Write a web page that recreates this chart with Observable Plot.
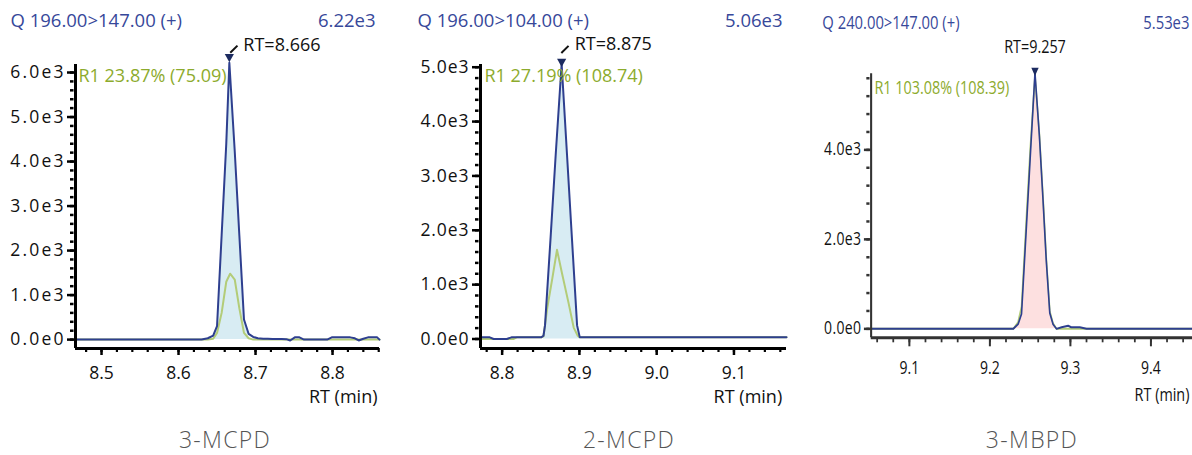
<!DOCTYPE html>
<html>
<head>
<meta charset="utf-8">
<script src="https://cdn.jsdelivr.net/npm/d3@7"></script>
<script src="https://cdn.jsdelivr.net/npm/@observablehq/plot@0.6"></script>
<style>
  html, body { margin: 0; padding: 0; background: #fff; }
  body { width: 1192px; height: 455px; overflow: hidden; position: relative; font-family: "Open Sans", sans-serif; }
  .panel { position: absolute; top: 0; transform-origin: 0 0; }
  .panel svg { overflow: visible; max-width: none !important; display: block; }
  .cap { position: absolute; bottom: 0; width: 200px; text-align: center; font-size: 23px; line-height: normal;
         color: #555; font-weight: 300; letter-spacing: 1.3px; }
</style>
</head>
<body>
<div id="p0" class="panel"></div>
<div id="p1" class="panel"></div>
<div id="p2" class="panel"></div>
<script>
// ---------------- data ----------------
const compounds   = ["3-MCPD", "2-MCPD", "3-MBPD"];
const transitions = ["Q 196.00>147.00 (+)", "Q 196.00>104.00 (+)", "Q 240.00>147.00 (+)"];
const maxLabels   = ["6.22e3", "5.06e3", "5.53e3"];
const ratioLabels = ["R1 23.87% (75.09)", "R1 27.19% (108.74)", "R1 103.08% (108.39)"];
const peakRTs     = [8.666, 8.875, 9.257];
const integStart  = [8.645, 8.8535, 9.229];
const integEnd    = [8.691, 8.9005, 9.2828];

// 3-MCPD quantifier (blue) and qualifier (green) traces
const quantRT1 = [8.4662, 8.630, 8.638, 8.645, 8.650, 8.656, 8.662, 8.666, 8.673, 8.679, 8.685, 8.691, 8.697, 8.703, 8.710, 8.716, 8.722, 8.728, 8.734, 8.740, 8.745, 8.751, 8.757, 8.763, 8.769, 8.775, 8.781, 8.787, 8.793, 8.799, 8.805, 8.811, 8.817, 8.823, 8.829, 8.834, 8.840, 8.846, 8.852, 8.858, 8.861];
const quant1   = [0, 0, 30, 90, 300, 2350, 4400, 6220, 4230, 2340, 450, 130, 60, 30, 20, 20, 15, 15, 15, 10, -20, 50, 50, 0, 0, 0, 0, 0, 0, 50, 50, 50, 50, 50, 30, -20, 20, 50, 50, 50, 0];
const qualRT1  = [8.4662, 8.638, 8.645, 8.650, 8.656, 8.662, 8.667, 8.673, 8.679, 8.685, 8.691, 8.697, 8.861];
const qual1    = [0, 0, 20, 150, 600, 1300, 1480, 1350, 700, 150, 30, 0, 0];

// 2-MCPD
const quantRT2 = [8.772, 8.784, 8.789, 8.806, 8.812, 8.8505, 8.8535, 8.8555, 8.8625, 8.8695, 8.877, 8.884, 8.890, 8.897, 8.9005, 9.168];
const quant2   = [30, 30, 0, 0, 30, 30, 60, 250, 1820, 3430, 5060, 3380, 1930, 250, 30, 30];
const qualRT2  = [8.772, 8.815, 8.819, 8.8505, 8.8535, 8.8585, 8.865, 8.871, 8.8776, 8.886, 8.8926, 8.8978, 8.9005, 9.168];
const qual2    = [0, 0, 30, 30, 50, 580, 1120, 1640, 1200, 660, 210, 60, 30, 30];

// 3-MBPD
const quantRT3 = [9.0525, 9.229, 9.2352, 9.2393, 9.2455, 9.250, 9.256, 9.2615, 9.266, 9.270, 9.2744, 9.2785, 9.2828, 9.289, 9.2972, 9.301, 9.3117, 9.32, 9.4515];
const quant3   = [0, 0, 110, 335, 2330, 3800, 5720, 4300, 2870, 1530, 350, 100, 0, 35, 70, 35, 35, 0, 0];
const qualRT3  = [9.0525, 9.229, 9.235, 9.2393, 9.2455, 9.250, 9.256, 9.2615, 9.266, 9.270, 9.2744, 9.2785, 9.2828, 9.4515];
const qual3    = [0, 0, 150, 500, 2550, 4000, 5650, 4350, 2950, 1600, 400, 120, 0, 0];

// axis ticks
const xMajor1 = [8.5, 8.6, 8.7, 8.8];
const xMajor2 = [8.8, 8.9, 9.0, 9.1];
const xMajor3 = [9.1, 9.2, 9.3, 9.4];
const yMajor1 = [0, 1000, 2000, 3000, 4000, 5000, 6000];
const yMajor2 = [0, 1000, 2000, 3000, 4000, 5000];
const yMajor3 = [0, 2000, 4000];
const xMinorStep = 0.02;
const yMinorSteps = [200, 200, 400];

// ---------------- styles / layout ----------------
const BLUE = "#2e3f8f", GREEN = "#b3cc78", GREEN_TEXT = "#8dab2d", HEADER = "#37489a", TRI = "#1c2b60";
const fills = ["#d8ecf3", "#d8ecf3", "#fde0e0"];

const layouts = [
  {left: 0,   sx: 1,   width: 400, mL: 75, mR: 21, mT: 64,   mB: 62,   xDomain: [8.4662, 8.861], yDomain: [-200, 6180],
   axisColor: "#000", yTick: 8, yMinorTick: 3.5, xTick: 7, xMinorTick: 4, xPad: 11, axisW: 3, yLs: 2.2, headLs: 0.3,
   head: [-65, -43], max: [-4, -43], r1: [3, 11.5], rtmin: [-2, 49], tri: -4.5, slash: [4.5, -13.5], rt: [14, -17.5, "start"], xMajor: xMajor1, yMajor: yMajor1},
  {left: 400, sx: 1,   width: 400, mL: 80, mR: 14, mT: 64,   mB: 62,   xDomain: [8.772, 9.168],  yDomain: [-175, 5050],
   axisColor: "#000", yTick: 8, yMinorTick: 3.5, xTick: 7, xMinorTick: 4, xPad: 11, axisW: 3, yLs: 0.9, headLs: 0.3,
   head: [-63, -43], max: [-4, -43], r1: [4, 12], rtmin: [-4.3, 49], tri: -1, slash: [3.3, -14.5], rt: [13, -19.5, "start"], xMajor: xMajor2, yMajor: yMajor2},
  {left: 800, sx: 0.8, width: 490, mL: 88.4, mR: 0, mT: 73.3, mB: 72.7, xDomain: [9.0525, 9.4515], yDomain: [-200, 5700],
   axisColor: "#333", yTick: 8.5, yMinorTick: 4, xTick: 9, xMinorTick: 5, xPad: 14.4, axisW: 2.6, yLs: 0.5, headLs: 0,
   head: [-61, -50.3], max: [-3.75, -50.3], r1: [4.1, 14.7], rtmin: [-3.75, 57.7], tri: -1, slash: null, rt: [0, -25.4, "middle"], xMajor: xMajor3, yMajor: yMajor3}
];

const series = [
  {quantRT: quantRT1, quant: quant1, qualRT: qualRT1, qual: qual1},
  {quantRT: quantRT2, quant: quant2, qualRT: qualRT2, qual: qual2},
  {quantRT: quantRT3, quant: quant3, qualRT: qualRT3, qual: qual3}
];

const triDown = {draw(ctx, size) { const r = Math.sqrt(size / Math.PI); ctx.moveTo(-r, -r * 0.9); ctx.lineTo(r, -r * 0.9); ctx.lineTo(0, r * 0.9); ctx.closePath(); }};
const slash = {draw(ctx, size) { const r = Math.sqrt(size / Math.PI); ctx.moveTo(-r, r); ctx.lineTo(r, -r); }};

const fmtY = d => d === 0 ? "0.0e0" : (d / 1000).toFixed(1) + "e3";

function minorTicks(domain, step) {
  const out = [];
  for (let i = Math.ceil(domain[0] / step - 1e-9); i * step <= domain[1] + 1e-9; i++) out.push(+(i * step).toFixed(4));
  return out;
}

function makePanel(k) {
  const L = layouts[k], S = series[k];
  const quant = S.quantRT.map((rt, i) => ({rt, v: S.quant[i]}));
  const qual = S.qualRT.map((rt, i) => ({rt, v: S.qual[i]}));
  const integ = quant.filter(d => d.rt >= integStart[k] - 1e-9 && d.rt <= integEnd[k] + 1e-9);
  const apexPt = quant.reduce((a, b) => (b.v > a.v ? b : a));
  const apex = [{rt: apexPt.rt, v: apexPt.v, label: "RT=" + peakRTs[k].toFixed(3)}];
  const yMinor = minorTicks([0, L.yDomain[1]], yMinorSteps[k]);
  const xMinor = minorTicks(L.xDomain, xMinorStep);
  const mid = {lineAnchor: "middle"};
  const marks = [
    Plot.areaY(integ, {x: "rt", y: "v", fill: fills[k]}),
    Plot.line(qual, {x: "rt", y: "v", stroke: GREEN, strokeWidth: 2}),
    Plot.line(quant, {x: "rt", y: "v", stroke: BLUE, strokeWidth: 2}),
    Plot.axisY({ticks: yMinor, tickSize: L.yMinorTick, dx: -1.5, fill: null, label: null, strokeWidth: 2.5, stroke: L.axisColor}),
    Plot.axisY({ticks: L.yMajor, tickSize: L.yTick, tickPadding: 4 - L.yLs, tickFormat: fmtY, label: null, strokeWidth: 2.5, stroke: L.axisColor, fill: "#111", fontSize: 17.5}),
    Plot.axisX({ticks: xMinor, tickSize: L.xMinorTick, fill: null, label: null, strokeWidth: 2.2, stroke: L.axisColor}),
    Plot.axisX({ticks: L.xMajor, tickSize: L.xTick, tickPadding: L.xPad, tickFormat: d => d.toFixed(1), label: null, strokeWidth: 2.5, stroke: L.axisColor, fill: "#111", fontSize: 17.5}),
    Plot.ruleX([L.xDomain[0]], {stroke: L.axisColor, strokeWidth: L.axisW}),
    Plot.ruleY([L.yDomain[0]], {stroke: L.axisColor, strokeWidth: 3}),
    Plot.dot(apex, {x: "rt", y: "v", symbol: triDown, r: 4.6, fill: TRI, stroke: null, dy: L.tri}),
    Plot.text(apex, {...mid, x: "rt", y: "v", text: "label", dx: L.rt[0], dy: L.rt[1], textAnchor: L.rt[2], fill: "#111", fontSize: 18, ariaLabel: "rtlabel"}),
    Plot.text([transitions[k]], {...mid, frameAnchor: "top-left", text: d => d, dx: L.head[0], dy: L.head[1], textAnchor: "start", fill: HEADER, fontSize: 18.5, ariaLabel: "header"}),
    Plot.text([maxLabels[k]], {...mid, frameAnchor: "top-right", text: d => d, dx: L.max[0], dy: L.max[1], textAnchor: "end", fill: HEADER, fontSize: 18.5}),
    Plot.text([ratioLabels[k]], {...mid, frameAnchor: "top-left", text: d => d, dx: L.r1[0], dy: L.r1[1], textAnchor: "start", fill: GREEN_TEXT, fontSize: 18, ariaLabel: "ratio"}),
    Plot.text(["RT (min)"], {...mid, frameAnchor: "bottom-right", text: d => d, dx: L.rtmin[0], dy: L.rtmin[1], textAnchor: "end", fill: "#111", fontSize: 18, ariaLabel: "xtitle"})
  ];
  if (L.slash) marks.push(Plot.dot(apex, {x: "rt", y: "v", symbol: slash, r: 3.6, stroke: "#111", strokeWidth: 2, fill: "none", dx: L.slash[0], dy: L.slash[1]}));
  const svg = Plot.plot({
    width: L.width, height: 410,
    marginLeft: L.mL, marginRight: L.mR, marginTop: L.mT, marginBottom: L.mB,
    x: {domain: L.xDomain},
    y: {domain: L.yDomain},
    style: {fontFamily: "'Open Sans', sans-serif", fontSize: "17px", background: "transparent", overflow: "visible", maxWidth: "none"},
    marks
  });
  svg.style.maxWidth = "none";
  const sel = d3.select(svg);
  sel.selectAll('g[aria-label="y-axis tick label"]').style("letter-spacing", L.yLs + "px");
  if (k < 2) {
    sel.selectAll('g[aria-label="header"]').style("letter-spacing", L.headLs + "px");
    sel.selectAll('g[aria-label="ratio"]').style("letter-spacing", "0.35px");
    sel.selectAll('g[aria-label="rtlabel"]').style("letter-spacing", "0.3px");
    sel.selectAll('g[aria-label="xtitle"]').style("letter-spacing", "0.7px");
  }
  const host = document.getElementById("p" + k);
  host.style.left = L.left + "px";
  host.style.width = L.width + "px";
  host.style.transform = `scaleX(${L.sx})`;
  host.appendChild(svg);
}

[0, 1, 2].forEach(makePanel);

const capCenters = [225, 629, 1032];
compounds.forEach((name, i) => {
  const d = document.createElement("div");
  d.className = "cap";
  d.style.left = (capCenters[i] - 100) + "px";
  d.textContent = name;
  document.body.appendChild(d);
});
</script>
</body>
</html>
